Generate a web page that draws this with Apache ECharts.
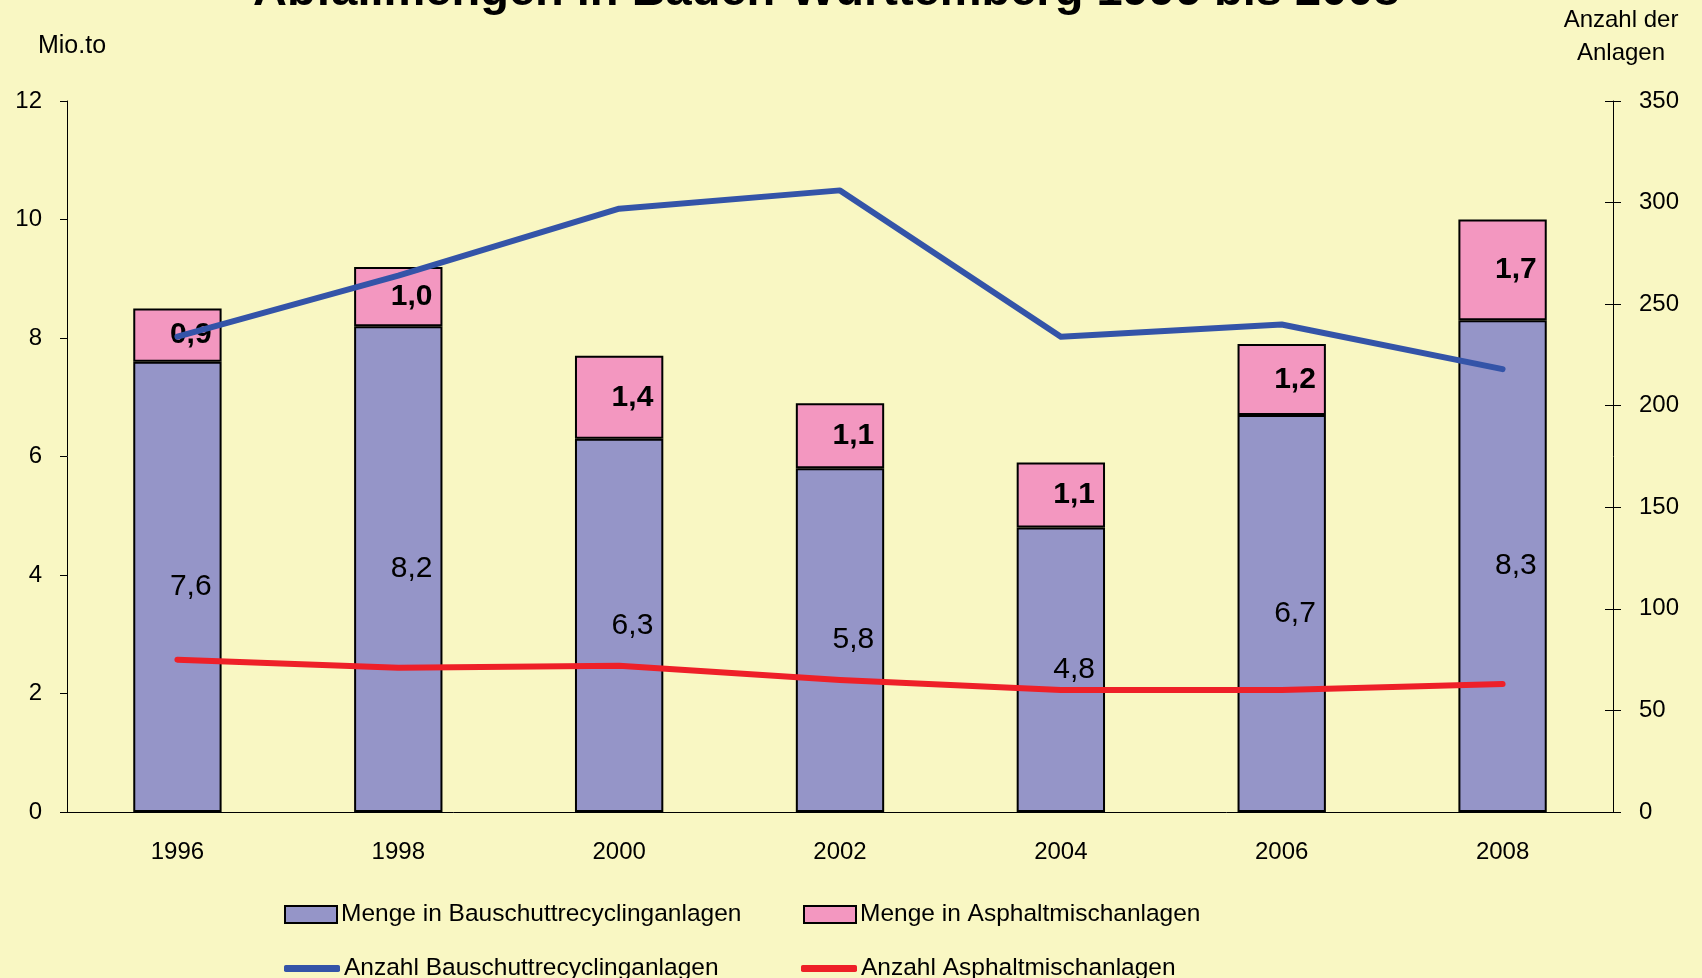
<!DOCTYPE html>
<html>
<head>
<meta charset="utf-8">
<script src="https://cdn.jsdelivr.net/npm/echarts@6/dist/echarts.min.js"></script>
<style>
  html, body { margin: 0; padding: 0; background: #F9F7C3; }
  #chart { width: 1702px; height: 978px; }
</style>
</head>
<body>
<div id="chart"></div>
<script>
const years = ['1996', '1998', '2000', '2002', '2004', '2006', '2008'];
const mengeBauschutt = [7.6, 8.2, 6.3, 5.8, 4.8, 6.7, 8.3];
const mengeAsphalt = [0.9, 1.0, 1.4, 1.1, 1.1, 1.2, 1.7];
const anzahlBauschutt = [234, 264, 297, 306, 234, 240, 218];
const anzahlAsphalt = [75, 71, 72, 65, 60, 60, 63];

const FONT = '"Liberation Sans", Arial, sans-serif';
const fmt = p => p.value.toFixed(1).replace('.', ',');

const chart = echarts.init(document.getElementById('chart'));

const legendBase = {
    orient: 'horizontal',
    itemGap: 0,
    padding: 0,
    textStyle: { fontFamily: FONT, fontSize: 24.5, color: '#000', padding: [0, 0, 0, -1] }
};

chart.setOption({
    animation: false,
    backgroundColor: '#F9F7C3',
    title: {
        text: 'Abfallmengen in Baden-Württemberg 1996 bis 2008',
        left: 248,
        top: -36,
        textStyle: { fontFamily: FONT, fontSize: 47, fontWeight: 'bold', color: '#000' }
    },
    grid: { left: 67, right: 89, top: 101, bottom: 166 },
    legend: [
        Object.assign({}, legendBase, {
            data: [{ name: 'Menge in Bauschuttrecyclinganlagen', icon: 'rect' }], left: 284, top: 902,
            itemWidth: 52, itemHeight: 17
        }),
        Object.assign({}, legendBase, {
            data: [{ name: 'Menge in Asphaltmischanlagen', icon: 'rect' }], left: 803, top: 902,
            itemWidth: 52, itemHeight: 17
        }),
        Object.assign({}, legendBase, {
            data: [{ name: 'Anzahl Bauschuttrecyclinganlagen', icon: 'roundRect' }], left: 284, top: 956,
            itemWidth: 56, itemHeight: 7
        }),
        Object.assign({}, legendBase, {
            data: [{ name: 'Anzahl Asphaltmischanlagen', icon: 'roundRect' }], left: 801, top: 956,
            itemWidth: 56, itemHeight: 7
        })
    ],
    xAxis: {
        type: 'category',
        data: years,
        axisLine: { lineStyle: { color: '#000', width: 1 } },
        axisTick: { show: false },
        axisLabel: { fontFamily: FONT, fontSize: 24, color: '#000', margin: 28 }
    },
    yAxis: [
        {
            type: 'value', min: 0, max: 12, interval: 2,
            name: 'Mio.to', nameLocation: 'end', nameGap: 42,
            nameTextStyle: { fontFamily: FONT, fontSize: 25, color: '#000', align: 'center', padding: [0, 0, 0, 10] },
            axisLine: { show: true, lineStyle: { color: '#000', width: 1 } },
            axisTick: { show: true, length: 7, lineStyle: { color: '#000' } },
            splitLine: { show: false },
            axisLabel: { fontFamily: FONT, fontSize: 24, color: '#000', margin: 25 }
        },
        {
            type: 'value', min: 0, max: 350, interval: 50, position: 'right',
            name: 'Anzahl der\nAnlagen', nameLocation: 'end', nameGap: 31,
            nameTextStyle: { fontFamily: FONT, fontSize: 24, color: '#000', align: 'center', lineHeight: 33, padding: [0, 0, 0, 16] },
            axisLine: { show: true, lineStyle: { color: '#000', width: 1 } },
            axisTick: { show: true, length: 8, lineStyle: { color: '#000' } },
            splitLine: { show: false },
            axisLabel: { fontFamily: FONT, fontSize: 24, color: '#000', margin: 26 }
        },
        {
            // inner half of the crossing ticks on the right axis
            type: 'value', min: 0, max: 350, interval: 50, position: 'right',
            axisLine: { show: false },
            axisTick: { show: true, inside: true, length: 8, lineStyle: { color: '#000' } },
            splitLine: { show: false },
            axisLabel: { show: false }
        }
    ],
    series: [
        {
            name: 'Menge in Bauschuttrecyclinganlagen',
            type: 'bar', stack: 'menge', barWidth: '40%',
            data: mengeBauschutt,
            itemStyle: { color: '#9595C8', borderColor: '#000', borderWidth: 2 },
            label: {
                show: true, position: 'insideRight', distance: 10, formatter: fmt,
                fontFamily: FONT, fontSize: 30, color: '#000'
            }
        },
        {
            name: 'Menge in Asphaltmischanlagen',
            type: 'bar', stack: 'menge', barWidth: '40%',
            data: mengeAsphalt,
            itemStyle: { color: '#F397C0', borderColor: '#000', borderWidth: 2 },
            label: {
                show: true, position: 'insideRight', distance: 10, formatter: fmt,
                fontFamily: FONT, fontSize: 30, fontWeight: 'bold', color: '#000'
            }
        },
        {
            name: 'Anzahl Bauschuttrecyclinganlagen',
            type: 'line', yAxisIndex: 1, data: anzahlBauschutt,
            showSymbol: false, symbol: 'none',
            itemStyle: { color: '#3454A8' },
            lineStyle: { color: '#3454A8', width: 6, cap: 'round', join: 'round' },
            z: 5
        },
        {
            name: 'Anzahl Asphaltmischanlagen',
            type: 'line', yAxisIndex: 1, data: anzahlAsphalt,
            showSymbol: false, symbol: 'none',
            itemStyle: { color: '#EE2028' },
            lineStyle: { color: '#EE2028', width: 6, cap: 'round', join: 'round' },
            z: 5
        }
    ]
});
</script>
</body>
</html>
